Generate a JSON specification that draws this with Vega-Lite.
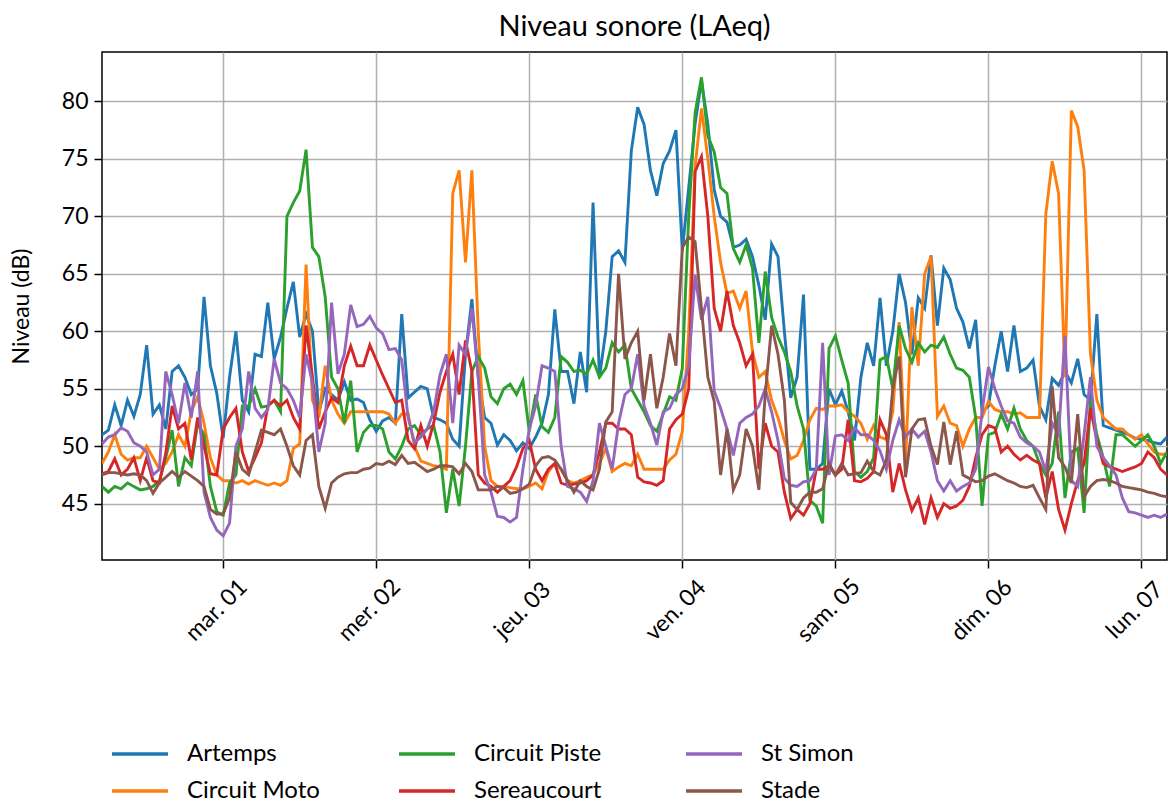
{
"$schema": "https://vega.github.io/schema/vega-lite/v6.json",
"width": 1065, "height": 508,
"autosize": {"type": "none"},
"padding": {"left": 102, "top": 52, "right": 1, "bottom": 243},
"background": "white",
"title": {"text": "Niveau sonore (LAeq)", "fontSize": 29, "font": "Lato", "fontWeight": "normal", "offset": 10, "color": "#000"},
"data": {"values": [
{"t":"2022-02-28T05:00","A":51,"M":48.5,"P":46.5,"R":47.6,"S":50.2,"D":47.5},
{"t":"2022-02-28T06:00","A":51.4,"M":49.5,"P":46,"R":47.8,"S":50.8,"D":47.7},
{"t":"2022-02-28T07:00","A":53.6,"M":51,"P":46.5,"R":48.9,"S":51,"D":47.7},
{"t":"2022-02-28T08:00","A":51.8,"M":49.3,"P":46.3,"R":47.5,"S":51.6,"D":47.6},
{"t":"2022-02-28T09:00","A":54,"M":48.8,"P":46.8,"R":48,"S":51.3,"D":47.5},
{"t":"2022-02-28T10:00","A":52.6,"M":49,"P":46.5,"R":49,"S":50.3,"D":47.6},
{"t":"2022-02-28T11:00","A":54.5,"M":49,"P":46.2,"R":47,"S":50,"D":47.5},
{"t":"2022-02-28T12:00","A":58.8,"M":50,"P":46.3,"R":49,"S":49.5,"D":47},
{"t":"2022-02-28T13:00","A":52.8,"M":49,"P":46.5,"R":47,"S":47.5,"D":45.9},
{"t":"2022-02-28T14:00","A":53.6,"M":48,"P":47,"R":46.8,"S":48,"D":46.8},
{"t":"2022-02-28T15:00","A":51.5,"M":48.5,"P":49,"R":49.4,"S":56.5,"D":47.3},
{"t":"2022-02-28T16:00","A":56.5,"M":49.5,"P":51.4,"R":53.5,"S":54.5,"D":47.8},
{"t":"2022-02-28T17:00","A":57,"M":51,"P":46.5,"R":51.5,"S":52,"D":47.3},
{"t":"2022-02-28T18:00","A":56,"M":50,"P":49,"R":52,"S":55.5,"D":47.8},
{"t":"2022-02-28T19:00","A":54.5,"M":53,"P":48.3,"R":48.8,"S":52.5,"D":47.4},
{"t":"2022-02-28T20:00","A":55,"M":54.3,"P":52,"R":52.5,"S":56.5,"D":47},
{"t":"2022-02-28T21:00","A":63,"M":52,"P":51,"R":50,"S":46,"D":46.5},
{"t":"2022-02-28T22:00","A":57,"M":49,"P":46.5,"R":47.6,"S":43.8,"D":44.5},
{"t":"2022-02-28T23:00","A":54.6,"M":47.5,"P":44.3,"R":47.5,"S":42.7,"D":44.1},
{"t":"2022-03-01T00:00","A":50.7,"M":47,"P":44,"R":51.5,"S":42.2,"D":44.1},
{"t":"2022-03-01T01:00","A":56,"M":47,"P":46.8,"R":52.5,"S":43.3,"D":45.5},
{"t":"2022-03-01T02:00","A":60,"M":46.8,"P":47.5,"R":53.3,"S":50,"D":49.5},
{"t":"2022-03-01T03:00","A":54,"M":47,"P":53.5,"R":49.5,"S":51.5,"D":48},
{"t":"2022-03-01T04:00","A":53,"M":46.7,"P":53.5,"R":47.8,"S":56.5,"D":47.5},
{"t":"2022-03-01T05:00","A":58,"M":47,"P":55,"R":49,"S":53.3,"D":49.5},
{"t":"2022-03-01T06:00","A":57.8,"M":46.8,"P":53.4,"R":50.3,"S":52.5,"D":51.4},
{"t":"2022-03-01T07:00","A":62.5,"M":46.6,"P":53.5,"R":53.5,"S":53.2,"D":51.2},
{"t":"2022-03-01T08:00","A":57.6,"M":46.8,"P":54,"R":54,"S":57.6,"D":51},
{"t":"2022-03-01T09:00","A":59.5,"M":46.6,"P":53,"R":53.5,"S":55.5,"D":51.5},
{"t":"2022-03-01T10:00","A":62,"M":47,"P":70,"R":54,"S":55,"D":50},
{"t":"2022-03-01T11:00","A":64.3,"M":49.8,"P":71.2,"R":52.5,"S":54,"D":48.3},
{"t":"2022-03-01T12:00","A":59.5,"M":50.2,"P":72.2,"R":51.5,"S":52.5,"D":47.5},
{"t":"2022-03-01T13:00","A":61.5,"M":65.8,"P":75.8,"R":60.5,"S":58,"D":50.5},
{"t":"2022-03-01T14:00","A":60,"M":54,"P":67.3,"R":56,"S":55.5,"D":51},
{"t":"2022-03-01T15:00","A":53,"M":52.5,"P":66.5,"R":51.5,"S":49.5,"D":46.5},
{"t":"2022-03-01T16:00","A":55,"M":57,"P":63,"R":53,"S":52,"D":44.6},
{"t":"2022-03-01T17:00","A":54.5,"M":54,"P":56,"R":54.2,"S":62.5,"D":46.8},
{"t":"2022-03-01T18:00","A":54,"M":52.8,"P":55,"R":53.8,"S":56.3,"D":47.3},
{"t":"2022-03-01T19:00","A":55.6,"M":52,"P":52,"R":57,"S":58,"D":47.6},
{"t":"2022-03-01T20:00","A":54,"M":53,"P":55.7,"R":58.7,"S":62.3,"D":47.7},
{"t":"2022-03-01T21:00","A":54.1,"M":53,"P":49.5,"R":57,"S":60.4,"D":47.7},
{"t":"2022-03-01T22:00","A":53.8,"M":53,"P":51.2,"R":57,"S":60.6,"D":48},
{"t":"2022-03-01T23:00","A":52.3,"M":53,"P":51.8,"R":58.8,"S":61.3,"D":48.1},
{"t":"2022-03-02T00:00","A":51.3,"M":53,"P":51.8,"R":57.5,"S":60.3,"D":48.5},
{"t":"2022-03-02T01:00","A":52.2,"M":53,"P":51.5,"R":56.2,"S":59.8,"D":48.4},
{"t":"2022-03-02T02:00","A":52.5,"M":52.8,"P":49.5,"R":55,"S":58.4,"D":48.7},
{"t":"2022-03-02T03:00","A":52,"M":52,"P":48.9,"R":53.8,"S":58.5,"D":48.4},
{"t":"2022-03-02T04:00","A":61.5,"M":52.8,"P":50,"R":54,"S":57.5,"D":49.2},
{"t":"2022-03-02T05:00","A":54.2,"M":52.8,"P":51.5,"R":50.5,"S":52.5,"D":48.5},
{"t":"2022-03-02T06:00","A":54.7,"M":50,"P":51.8,"R":49.8,"S":50.3,"D":48.6},
{"t":"2022-03-02T07:00","A":55.2,"M":48.7,"P":51,"R":51.8,"S":50.8,"D":48.2},
{"t":"2022-03-02T08:00","A":55,"M":48.5,"P":51.5,"R":50,"S":51.5,"D":47.8},
{"t":"2022-03-02T09:00","A":52.5,"M":48.3,"P":51.8,"R":52,"S":53,"D":48},
{"t":"2022-03-02T10:00","A":52.3,"M":48.2,"P":49.5,"R":54.7,"S":56.2,"D":48.3},
{"t":"2022-03-02T11:00","A":52,"M":48,"P":44.2,"R":56.5,"S":58,"D":48.3},
{"t":"2022-03-02T12:00","A":50.6,"M":72,"P":48,"R":58,"S":52,"D":48.2},
{"t":"2022-03-02T13:00","A":50,"M":74,"P":44.8,"R":54.5,"S":58.8,"D":47.6},
{"t":"2022-03-02T14:00","A":58,"M":66,"P":50,"R":59.2,"S":58,"D":48.5},
{"t":"2022-03-02T15:00","A":62.8,"M":74,"P":56.5,"R":56.5,"S":62,"D":47.8},
{"t":"2022-03-02T16:00","A":56,"M":60,"P":57.8,"R":47.5,"S":56,"D":46.2},
{"t":"2022-03-02T17:00","A":52.5,"M":50,"P":56.8,"R":46.8,"S":47.5,"D":46.2},
{"t":"2022-03-02T18:00","A":52,"M":47,"P":54.3,"R":46.5,"S":46,"D":46.2},
{"t":"2022-03-02T19:00","A":50.1,"M":46.5,"P":53.7,"R":46,"S":43.9,"D":46.5},
{"t":"2022-03-02T20:00","A":51,"M":46.5,"P":55,"R":46.5,"S":43.8,"D":46.4},
{"t":"2022-03-02T21:00","A":50.5,"M":46.4,"P":55.4,"R":47,"S":43.4,"D":45.9},
{"t":"2022-03-02T22:00","A":49.6,"M":46.3,"P":54.5,"R":48.2,"S":43.8,"D":46},
{"t":"2022-03-02T23:00","A":50.3,"M":46.3,"P":55.7,"R":49.8,"S":48,"D":46.3},
{"t":"2022-03-03T00:00","A":49.8,"M":46.5,"P":51.3,"R":50.5,"S":51.5,"D":46.7},
{"t":"2022-03-03T01:00","A":50.8,"M":46.8,"P":54.5,"R":48,"S":53.5,"D":48.3},
{"t":"2022-03-03T02:00","A":52,"M":46.3,"P":51.7,"R":47,"S":57,"D":49},
{"t":"2022-03-03T03:00","A":54.5,"M":47.8,"P":51.2,"R":48,"S":56.8,"D":49.1},
{"t":"2022-03-03T04:00","A":61.9,"M":48.5,"P":52.5,"R":48.5,"S":56.5,"D":48.8},
{"t":"2022-03-03T05:00","A":56.5,"M":48,"P":57.8,"R":46.8,"S":50,"D":48},
{"t":"2022-03-03T06:00","A":56.5,"M":47,"P":57.3,"R":46.6,"S":46.5,"D":47},
{"t":"2022-03-03T07:00","A":53.7,"M":46.8,"P":56.5,"R":46.7,"S":46.3,"D":46},
{"t":"2022-03-03T08:00","A":58.2,"M":47,"P":56.6,"R":46.8,"S":46,"D":47},
{"t":"2022-03-03T09:00","A":54.7,"M":47.3,"P":56.3,"R":47,"S":45.2,"D":46.5},
{"t":"2022-03-03T10:00","A":71.2,"M":47.5,"P":57.5,"R":47.5,"S":47,"D":46.2},
{"t":"2022-03-03T11:00","A":56,"M":48.5,"P":56,"R":49.5,"S":52,"D":48},
{"t":"2022-03-03T12:00","A":60,"M":49.8,"P":56.8,"R":52,"S":50,"D":52.1},
{"t":"2022-03-03T13:00","A":66.5,"M":47.8,"P":59,"R":52,"S":48,"D":53},
{"t":"2022-03-03T14:00","A":67,"M":48.2,"P":58.2,"R":51.5,"S":52,"D":65},
{"t":"2022-03-03T15:00","A":66,"M":48.5,"P":58.8,"R":51.5,"S":54.5,"D":57.6},
{"t":"2022-03-03T16:00","A":75.7,"M":48.3,"P":55,"R":51,"S":55,"D":59},
{"t":"2022-03-03T17:00","A":79.5,"M":49.3,"P":54,"R":47.3,"S":58,"D":60},
{"t":"2022-03-03T18:00","A":78,"M":48,"P":53,"R":46.9,"S":53.5,"D":54},
{"t":"2022-03-03T19:00","A":74,"M":48,"P":51.8,"R":46.8,"S":52,"D":58},
{"t":"2022-03-03T20:00","A":71.8,"M":48,"P":51.3,"R":46.6,"S":50.1,"D":53.3},
{"t":"2022-03-03T21:00","A":74.6,"M":48,"P":52.8,"R":47,"S":53,"D":56},
{"t":"2022-03-03T22:00","A":75.7,"M":48.8,"P":54.3,"R":51.5,"S":53.3,"D":59.8},
{"t":"2022-03-03T23:00","A":77.5,"M":49.3,"P":54,"R":52.3,"S":54.5,"D":57},
{"t":"2022-03-04T00:00","A":67,"M":51.3,"P":56.8,"R":52.8,"S":55,"D":67.3},
{"t":"2022-03-04T01:00","A":72.5,"M":60,"P":70,"R":55,"S":57,"D":68.2},
{"t":"2022-03-04T02:00","A":78,"M":74.3,"P":79,"R":73.9,"S":64.9,"D":67.8},
{"t":"2022-03-04T03:00","A":81.8,"M":79.4,"P":82.1,"R":75.2,"S":61,"D":62},
{"t":"2022-03-04T04:00","A":78,"M":75,"P":77,"R":70,"S":63,"D":56},
{"t":"2022-03-04T05:00","A":72.3,"M":70,"P":75.6,"R":62,"S":54.8,"D":53.9},
{"t":"2022-03-04T06:00","A":70,"M":66,"P":72.5,"R":60,"S":53.3,"D":47.5},
{"t":"2022-03-04T07:00","A":69.5,"M":63.3,"P":72,"R":63.5,"S":51.5,"D":51.5},
{"t":"2022-03-04T08:00","A":67.3,"M":63.5,"P":67.2,"R":60.5,"S":49.2,"D":46.2},
{"t":"2022-03-04T09:00","A":67.5,"M":62,"P":66,"R":59,"S":52,"D":47.5},
{"t":"2022-03-04T10:00","A":68,"M":63.5,"P":67.5,"R":57,"S":52.5,"D":51.5},
{"t":"2022-03-04T11:00","A":66.5,"M":58.2,"P":65.5,"R":58,"S":52.8,"D":50},
{"t":"2022-03-04T12:00","A":64,"M":56,"P":59,"R":48,"S":53.5,"D":46.2},
{"t":"2022-03-04T13:00","A":61,"M":56.5,"P":65.2,"R":52,"S":55,"D":54.5},
{"t":"2022-03-04T14:00","A":67.6,"M":54,"P":61.2,"R":50,"S":53,"D":60.5},
{"t":"2022-03-04T15:00","A":66.5,"M":52.5,"P":59.5,"R":49.5,"S":50.5,"D":58},
{"t":"2022-03-04T16:00","A":60,"M":50.5,"P":58.2,"R":46,"S":47.2,"D":54},
{"t":"2022-03-04T17:00","A":54.2,"M":48.9,"P":56.5,"R":43.7,"S":46.6,"D":45.1},
{"t":"2022-03-04T18:00","A":56,"M":49.2,"P":53.5,"R":44.5,"S":46.5,"D":44.5},
{"t":"2022-03-04T19:00","A":63.2,"M":50.5,"P":51.5,"R":44,"S":46.9,"D":45.5},
{"t":"2022-03-04T20:00","A":48,"M":52.3,"P":45.3,"R":45,"S":47,"D":46},
{"t":"2022-03-04T21:00","A":48,"M":53.3,"P":44.8,"R":48,"S":48,"D":46},
{"t":"2022-03-04T22:00","A":48.5,"M":53.2,"P":43.3,"R":48,"S":59,"D":46.3},
{"t":"2022-03-04T23:00","A":55,"M":53.5,"P":58.5,"R":48.3,"S":47.5,"D":48.5},
{"t":"2022-03-05T00:00","A":53.6,"M":53.5,"P":59.6,"R":47.5,"S":50.9,"D":47.5},
{"t":"2022-03-05T01:00","A":54.8,"M":53.6,"P":57.5,"R":48,"S":51,"D":48.5},
{"t":"2022-03-05T02:00","A":53,"M":53,"P":55.5,"R":52.3,"S":50.5,"D":47.5},
{"t":"2022-03-05T03:00","A":50.5,"M":52.6,"P":47.8,"R":47,"S":51.6,"D":47.6},
{"t":"2022-03-05T04:00","A":56,"M":52,"P":47.3,"R":46.9,"S":51,"D":47.7},
{"t":"2022-03-05T05:00","A":59,"M":50.6,"P":47.8,"R":47.2,"S":51,"D":48.7},
{"t":"2022-03-05T06:00","A":57,"M":51.8,"P":49,"R":47.8,"S":50.5,"D":47.8},
{"t":"2022-03-05T07:00","A":62.9,"M":50.8,"P":57.5,"R":52.3,"S":49.6,"D":47.5},
{"t":"2022-03-05T08:00","A":57,"M":50.6,"P":57.8,"R":51,"S":48,"D":48.8},
{"t":"2022-03-05T09:00","A":60,"M":53,"P":55,"R":46,"S":50.5,"D":55},
{"t":"2022-03-05T10:00","A":65,"M":60.8,"P":60.5,"R":48.5,"S":52.3,"D":57.8},
{"t":"2022-03-05T11:00","A":62.5,"M":48.5,"P":58.5,"R":46.2,"S":50.8,"D":47.3},
{"t":"2022-03-05T12:00","A":58,"M":62.1,"P":57.3,"R":44.4,"S":51.5,"D":51.5},
{"t":"2022-03-05T13:00","A":62.9,"M":57,"P":59,"R":45.5,"S":50.8,"D":52.3},
{"t":"2022-03-05T14:00","A":62,"M":65,"P":58.2,"R":43.2,"S":51.3,"D":52.4},
{"t":"2022-03-05T15:00","A":66.6,"M":66.5,"P":58.8,"R":45.5,"S":49.5,"D":50},
{"t":"2022-03-05T16:00","A":60.5,"M":52.6,"P":58.6,"R":43.8,"S":47,"D":48.4},
{"t":"2022-03-05T17:00","A":65.5,"M":53.5,"P":59.5,"R":45,"S":46.1,"D":52.1},
{"t":"2022-03-05T18:00","A":64.5,"M":52,"P":58,"R":44.6,"S":47,"D":48.4},
{"t":"2022-03-05T19:00","A":62,"M":51.8,"P":56.8,"R":44.8,"S":46.1,"D":51.3},
{"t":"2022-03-05T20:00","A":60.8,"M":50,"P":56.6,"R":45.3,"S":46.5,"D":47.5},
{"t":"2022-03-05T21:00","A":58.5,"M":51.5,"P":56,"R":46.5,"S":46.8,"D":47.2},
{"t":"2022-03-05T22:00","A":61,"M":52.5,"P":52.5,"R":49,"S":48,"D":46.9},
{"t":"2022-03-05T23:00","A":53,"M":52.5,"P":44.8,"R":51,"S":53,"D":47},
{"t":"2022-03-06T00:00","A":53.5,"M":53.9,"P":51,"R":51.8,"S":56.9,"D":47.4},
{"t":"2022-03-06T01:00","A":57,"M":53.2,"P":51.2,"R":51.6,"S":55,"D":47.6},
{"t":"2022-03-06T02:00","A":60,"M":53,"P":52.8,"R":49.5,"S":53.5,"D":47.3},
{"t":"2022-03-06T03:00","A":56.5,"M":53,"P":51.5,"R":50,"S":52.2,"D":47},
{"t":"2022-03-06T04:00","A":60.5,"M":52.8,"P":53.3,"R":49.3,"S":52,"D":46.8},
{"t":"2022-03-06T05:00","A":56.5,"M":52.9,"P":51.5,"R":48.8,"S":50.8,"D":46.5},
{"t":"2022-03-06T06:00","A":56.8,"M":52.5,"P":50.5,"R":49.2,"S":50.3,"D":46.4},
{"t":"2022-03-06T07:00","A":57.5,"M":52.5,"P":50,"R":48.8,"S":50,"D":46.6},
{"t":"2022-03-06T08:00","A":53.5,"M":52.5,"P":48.5,"R":48.5,"S":49.5,"D":45.5},
{"t":"2022-03-06T09:00","A":52.3,"M":70.2,"P":47.5,"R":45.5,"S":47.8,"D":44.5},
{"t":"2022-03-06T10:00","A":55.9,"M":74.8,"P":48.5,"R":47.8,"S":52,"D":55.2},
{"t":"2022-03-06T11:00","A":55.3,"M":72,"P":53,"R":44.5,"S":51,"D":49},
{"t":"2022-03-06T12:00","A":56.5,"M":56,"P":45.5,"R":42.7,"S":59.6,"D":48.2},
{"t":"2022-03-06T13:00","A":55.5,"M":79.2,"P":49.5,"R":45,"S":47,"D":46.8},
{"t":"2022-03-06T14:00","A":57.6,"M":77.8,"P":49.8,"R":47,"S":46.5,"D":52.8},
{"t":"2022-03-06T15:00","A":54.5,"M":74,"P":44.2,"R":48.5,"S":51,"D":45.6},
{"t":"2022-03-06T16:00","A":54,"M":58,"P":54,"R":53.3,"S":56,"D":46.5},
{"t":"2022-03-06T17:00","A":61.5,"M":54,"P":51,"R":50.5,"S":50,"D":47},
{"t":"2022-03-06T18:00","A":51.8,"M":52.5,"P":49,"R":48.5,"S":49,"D":47.1},
{"t":"2022-03-06T19:00","A":51.6,"M":52,"P":46.5,"R":48.2,"S":48.3,"D":47},
{"t":"2022-03-06T20:00","A":51.4,"M":51.5,"P":51,"R":48,"S":47.5,"D":46.8},
{"t":"2022-03-06T21:00","A":51.2,"M":51.5,"P":51,"R":47.8,"S":45.5,"D":46.5},
{"t":"2022-03-06T22:00","A":51,"M":51,"P":50.5,"R":48,"S":44.3,"D":46.4},
{"t":"2022-03-06T23:00","A":50.7,"M":50.6,"P":50,"R":48.2,"S":44.2,"D":46.3},
{"t":"2022-03-07T00:00","A":50.6,"M":51,"P":50.5,"R":48.5,"S":44,"D":46.2},
{"t":"2022-03-07T01:00","A":50.5,"M":50.2,"P":51,"R":49.5,"S":43.8,"D":46},
{"t":"2022-03-07T02:00","A":50.3,"M":49.5,"P":50,"R":49,"S":44,"D":45.9},
{"t":"2022-03-07T03:00","A":50.2,"M":49.3,"P":48.5,"R":48,"S":43.8,"D":45.7},
{"t":"2022-03-07T04:00","A":50.8,"M":49.3,"P":49.5,"R":47.5,"S":44.1,"D":45.6}
]},
"transform": [{"fold": ["A","M","P","R","S","D"], "as": ["k","v"]}],
"mark": {"type": "line", "strokeWidth": 2.9, "clip": true},
"encoding": {
  "x": {"field": "t", "type": "temporal",
    "scale": {"domain": [{"year":2022,"month":2,"date":28,"hours":5},{"year":2022,"month":3,"date":7,"hours":4}]},
    "axis": {"values": [{"year":2022,"month":3,"date":1},{"year":2022,"month":3,"date":2},{"year":2022,"month":3,"date":3},{"year":2022,"month":3,"date":4},{"year":2022,"month":3,"date":5},{"year":2022,"month":3,"date":6},{"year":2022,"month":3,"date":7}],
      "labelExpr": "['dim.','lun.','mar.','mer.','jeu.','ven.','sam.'][day(datum.value)] + ' ' + timeFormat(datum.value, '%d')",
      "labelAngle": -45, "labelAlign": "center", "labelBaseline": "middle", "labelPadding": 42, "labelOffset": -7,
      "labelFontSize": 23, "labelFont": "Lato", "labelColor": "#000", "labelFlush": false, "labelOverlap": false, "labelBound": false,
      "tickSize": 8, "tickColor": "#000", "tickWidth": 1.5,
      "grid": true, "gridColor": "#b0b0b0", "gridWidth": 1.5, "domain": false, "title": null}},
  "y": {"field": "v", "type": "quantitative",
    "scale": {"domain": [40.1, 84.3], "zero": false, "nice": false},
    "axis": {"values": [45,50,55,60,65,70,75,80], "title": "Niveau (dB)", "titleFontSize": 23, "titleFont": "Lato", "titleFontWeight": "normal", "titleColor": "#000", "titlePadding": 28,
      "labelFontSize": 23, "labelFont": "Lato", "labelColor": "#000", "labelPadding": 6,
      "tickSize": 8, "tickColor": "#000", "tickWidth": 1.5,
      "grid": true, "gridColor": "#b0b0b0", "gridWidth": 1.5, "domain": false}},
  "color": {"field": "k", "type": "nominal",
    "scale": {"domain": ["A","P","S","M","R","D"], "range": ["#1f77b4","#2ca02c","#9467bd","#ff7f0e","#d62728","#8c564b"]},
    "legend": {"orient": "none", "legendX": 22, "legendY": 686, "direction": "horizontal", "columns": 3, "title": null,
      "symbolType": "M-2,0H2", "symbolSize": 784, "symbolStrokeWidth": 3.5,
      "labelFontSize": 24, "labelFont": "Lato", "labelColor": "#000", "labelOffset": 31,
      "columnPadding": 72, "rowPadding": 9, "gridAlign": "all",
      "labelExpr": "datum.label == 'A' ? 'Artemps' : datum.label == 'M' ? 'Circuit Moto' : datum.label == 'P' ? 'Circuit Piste' : datum.label == 'R' ? 'Sereaucourt' : datum.label == 'S' ? 'St Simon' : 'Stade'"}}
},
"config": {"view": {"stroke": "#000", "strokeWidth": 1.5}, "font": "Lato"}
}
